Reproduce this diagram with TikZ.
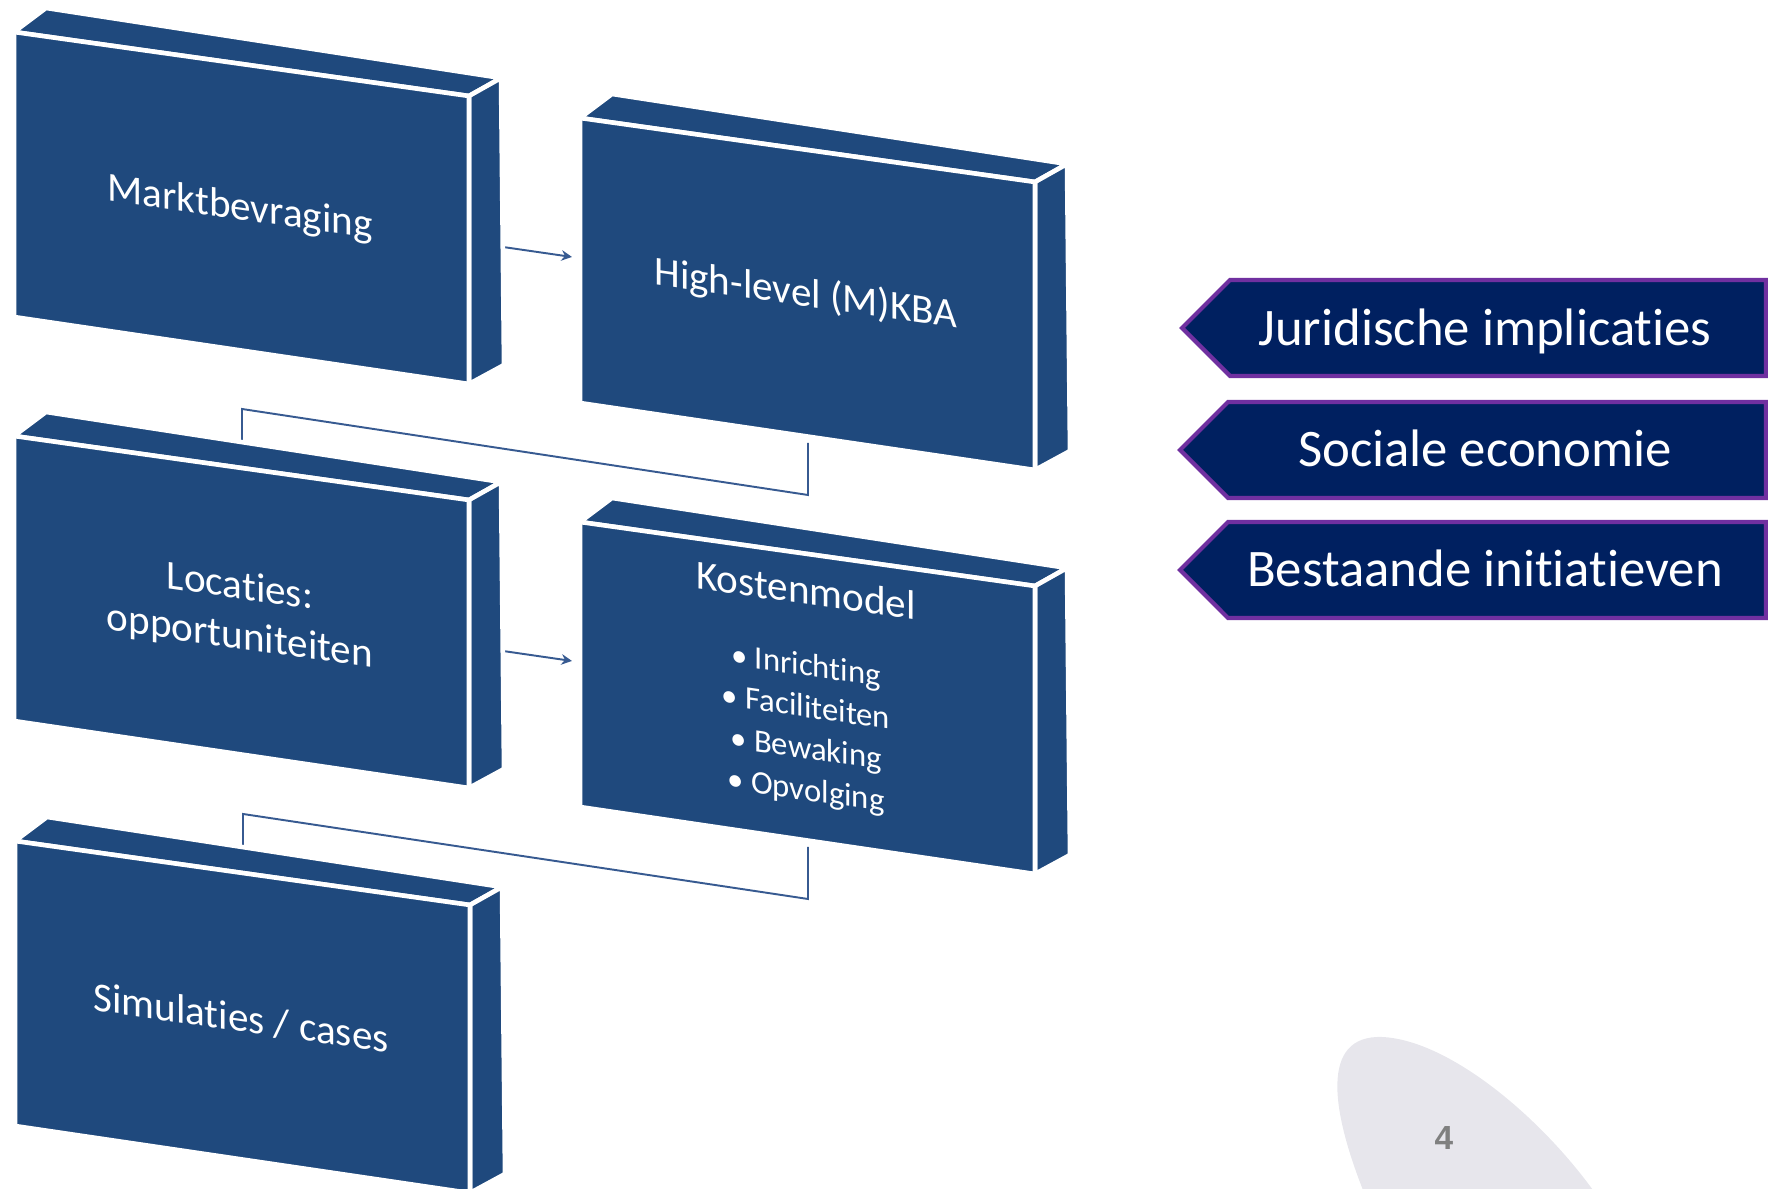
\documentclass[tikz,border=0pt]{standalone}
\usepackage{fontspec}
\setmainfont{Carlito}[Ligatures = NoCommon]
\newfontfamily\pagenumfont{Liberation Sans}
\usetikzlibrary{arrows.meta,backgrounds}

\definecolor{slabblue}{RGB}{31,73,125}
\definecolor{signnavy}{RGB}{0,32,96}
\definecolor{signpurple}{RGB}{112,48,160}
\definecolor{linkblue}{RGB}{55,90,145}
\definecolor{blobgray}{RGB}{231,230,236}

\tikzset{
  slabface/.style = {fill = slabblue, draw = white, line width = 1.3pt, line join = round},
  slabtext/.style = {text = white, align = center, yslant = -0.143, font = \fontsize{11.7}{14.2}\selectfont},
  signbox/.style = {fill = signnavy, draw = signpurple, line width = 1.2pt},
  signtext/.style = {text = white, anchor = base, font = \fontsize{15}{18}\selectfont},
  link/.style = {draw = linkblue, line width = 0.55pt},
}

% one 3d slab: name, x and y of the front top left corner
\newcommand{\slab}[3]{%
  \begin{scope}[shift = {(#2,#3)}]
    \filldraw[slabface] (0,0) -- (32,-24) -- (487,46) -- (455,64) -- cycle;
    \filldraw[slabface] (455,64) -- (487,46) -- (490,333) -- (455,352) -- cycle;
    \filldraw[slabface] (0,0) -- (455,64) -- (455,352) -- (0,285) -- cycle;
    \coordinate (#1-c) at (226,177);
    \coordinate (#1-n) at (228,-27);
    \coordinate (#1-s) at (228,325);
    \coordinate (#1-e) at (489,215);
    \coordinate (#1-w) at (-8,139);
  \end{scope}}

\begin{document}
\begin{tikzpicture}[x = 0.01cm, y = -0.01cm]
\clip (0,0) rectangle (1768,1189);

% backdrop and page number
\fill[blobgray] (1367,1200) .. controls (1330,1110) and (1320,1035) .. (1382,1037) .. controls (1450,1040) and (1545,1120) .. (1600,1200) -- cycle;
\node[text = black!50, font = \pagenumfont\bfseries\fontsize{9.5}{11}\selectfont] (pnum) at (1444,1138) {4};

\slab{markt}{14}{32}
\slab{hkba}{580}{118}
\slab{loc}{14}{436}
\slab{kost}{580}{522}
\slab{sim}{15}{841}

\node[slabtext] (marktlabel) at (markt-c) {Marktbevraging};
\node[slabtext] (hkbalabel) at (hkba-c) {High-level (M)KBA};
\node[slabtext] (loclabel) at (loc-c) {Locaties:\\opportuniteiten};
\node[slabtext, font = \fontsize{9.3}{11.8}\selectfont] (kostlabel) at ([yshift = 2.3]kost-c) {{\fontsize{11.7}{11.8}\selectfont Kostenmodel}\\[8.5pt] • Inrichting\\ • Faciliteiten\\ • Bewaking\\ • Opvolging};
\node[slabtext] (simlabel) at (sim-c) {Simulaties / cases};

\begin{pgfonlayer}{background}
\draw[link, -{Stealth[length = 3pt, width = 3pt]}] (markt-e) -- (hkba-w);
\draw[link, -{Stealth[length = 3pt, width = 3pt]}] (loc-e) -- (kost-w);
\draw[link] (hkba-s) -- ++(0,52) -- (loc-n) -- ++(0,37);
\draw[link] (kost-s) -- ++(0,52) -- (sim-n) -- ++(0,37);
\end{pgfonlayer}

% side topics
\draw[signbox] (1182,328) -- (1230,280) -- (1766,280) -- (1766,376) -- (1230,376) -- cycle;
\node[signtext] (jur) at (1485,346) {Juridische implicaties};
\draw[signbox] (1180,450) -- (1228,402) -- (1766,402) -- (1766,498) -- (1228,498) -- cycle;
\node[signtext] (soc) at (1485,467) {Sociale economie};
\draw[signbox] (1180,570) -- (1228,522) -- (1766,522) -- (1766,618) -- (1228,618) -- cycle;
\node[signtext] (best) at (1485,587) {Bestaande initiatieven};
\end{tikzpicture}
\end{document}
